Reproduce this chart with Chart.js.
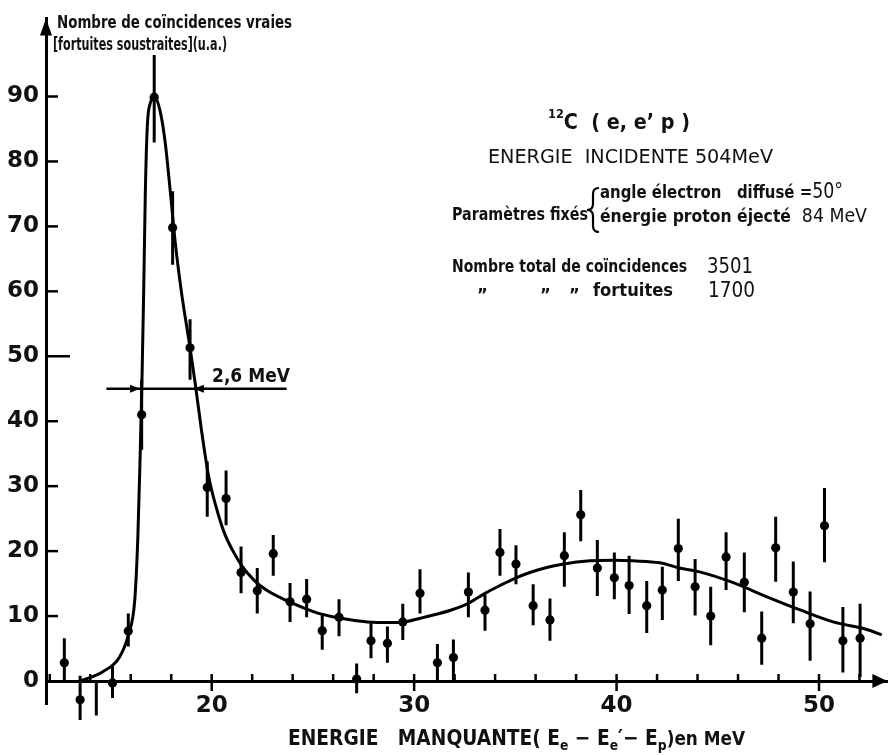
<!DOCTYPE html>
<html>
<head>
<meta charset="utf-8">
<script src="https://cdn.jsdelivr.net/npm/chart.js@4.4.0/dist/chart.umd.min.js"></script>
<style>
html,body{margin:0;padding:0;background:#fff;}
#wrap{width:892px;height:755px;position:relative;}
</style>
</head>
<body>
<div id="wrap"><canvas id="c" width="892" height="755"></canvas></div>
<script>
// ---- data ----
const energy = [12.72,13.5,14.3,15.1,15.88,16.54,17.16,18.07,18.93,19.78,20.71,21.45,22.25,23.04,23.87,24.69,25.46,26.29,27.16,27.87,28.68,29.44,30.29,31.15,31.94,32.68,33.5,34.24,35.03,35.88,36.71,37.42,38.23,39.05,39.89,40.62,41.49,42.26,43.05,43.88,44.65,45.41,46.31,47.17,47.86,48.73,49.56,50.27,51.18,52.03];
const counts = [2.8,-2.9,-5.3,-0.3,7.7,41.0,89.9,69.8,51.3,29.8,28.1,16.7,13.9,19.6,12.2,12.6,7.75,9.8,0.3,6.2,5.8,9.1,13.5,2.8,3.6,13.7,10.9,19.8,18.0,11.6,9.4,19.3,25.6,17.4,15.9,14.7,11.6,14.0,20.4,14.5,10.0,19.1,15.2,6.6,20.5,13.7,8.8,23.9,6.2,6.6];
const errLow = [-0.1,-6.0,-5.3,-2.6,5.3,35.6,82.9,64.1,46.4,25.3,24.0,13.5,10.4,16.2,9.1,9.8,4.8,6.9,-1.9,3.5,2.8,6.3,10.4,0.15,0.15,9.8,7.75,16.2,14.9,8.6,6.2,14.5,21.5,13.1,12.6,10.3,7.4,9.4,15.4,10.1,5.5,14.0,10.6,2.5,15.3,8.9,3.1,18.3,1.3,0.6];
const errHigh = [6.6,0.8,0.0,2.3,10.4,46.4,96.4,75.4,55.7,33.8,32.4,20.7,17.4,22.5,15.1,15.7,10.4,12.6,2.7,8.9,8.4,11.9,17.2,5.7,6.4,16.7,13.3,23.4,20.9,14.9,12.7,22.9,29.4,21.7,19.8,19.3,15.4,17.6,25.0,18.8,14.5,22.9,19.8,10.7,25.3,18.4,13.8,29.7,11.4,11.9];
const fitEnergy = [13.5,14.6,15.45,15.9,16.2,16.35,16.46,16.56,16.64,16.72,16.82,16.97,17.16,17.45,17.7,17.95,18.2,18.5,18.93,19.2,19.5,19.85,20.2,20.6,21.0,21.5,22.1,22.7,23.9,25.2,26.3,27.7,28.8,29.5,30.6,31.8,32.7,33.5,34.24,34.9,35.9,37.4,38.7,39.9,40.8,42.15,43.1,44.1,45.8,47.4,49.1,50.7,52.4,53.1];
const fitCounts = [0,1.4,3.7,7.3,12.5,22,34,47,60,75,85.5,89,90,87.8,83,75.5,67.5,60,51.3,45.5,38.5,31.5,27,23,20.3,17.7,15.5,14.0,12.1,10.5,9.7,9.1,9.0,9.1,9.9,10.9,12.0,13.5,14.7,15.7,16.9,18.0,18.5,18.6,18.5,18.2,17.4,16.8,15.1,13.0,10.9,9.1,7.9,7.1];
const xTickLabels = [20,30,40,50];
const yTickLabels = [0,10,20,30,40,50,60,70,80,90];
const fwhmLine = [14.8, 23.7];   // extent of the width marker (MeV)
const fwhmArrowTips = [16.46, 19.12];
const fwhmLevel = 45;
const fwhmLabel = '2,6 MeV';

// ---- build library datasets from the arrays ----
const points = energy.map((e,i)=>({x:e,y:counts[i]}));
const errorSegments = [];
energy.forEach((e,i)=>{ errorSegments.push({x:e,y:errLow[i]},{x:e,y:errHigh[i]},{x:e,y:null}); });
const fitCurve = fitEnergy.map((e,i)=>({x:e,y:fitCounts[i]}));
const fwhmSeg = [{x:fwhmLine[0],y:fwhmLevel},{x:fwhmLine[1],y:fwhmLevel}];

const ANN = "'DejaVu Sans Condensed','Liberation Sans Narrow','DejaVu Sans',sans-serif";
const TICKF = "'DejaVu Sans',sans-serif";

function drawRuns(ctx, runs, x, baseline, targetW, weight){
  let w = 0;
  runs.forEach(r=>{ ctx.font = (r.weight||weight)+' '+r.size+'px '+(r.family||ANN); r.w = ctx.measureText(r.t).width; w += r.w; });
  const sx = targetW ? targetW / w : 1;
  ctx.save();
  ctx.translate(x, baseline);
  ctx.scale(sx, 1);
  ctx.textAlign = 'left';
  ctx.textBaseline = 'alphabetic';
  let cx = 0;
  runs.forEach(r=>{ ctx.font = (r.weight||weight)+' '+r.size+'px '+(r.family||ANN); ctx.fillText(r.t, cx, r.dy||0); cx += r.w; });
  ctx.restore();
}

const decor = {
  id:'decor',
  afterDraw(chart){
    const ctx = chart.ctx, xs = chart.scales.x, ys = chart.scales.y, ca = chart.chartArea;
    const y0 = ys.getPixelForValue(0);
    ctx.save();
    ctx.fillStyle = '#000'; ctx.strokeStyle = '#000';
    // arrow heads of axes
    ctx.beginPath(); ctx.moveTo(ca.left, ca.top); ctx.lineTo(ca.left-6, ca.top+17); ctx.lineTo(ca.left+6, ca.top+17); ctx.closePath(); ctx.fill();
    ctx.beginPath(); ctx.moveTo(ca.right, y0); ctx.lineTo(ca.right-15, y0-7); ctx.lineTo(ca.right-15, y0+7); ctx.closePath(); ctx.fill();
    // tick marks (inside), from the library's tick list
    ctx.lineWidth = 2.5;
    xs.ticks.forEach(t=>{
      const px = xs.getPixelForValue(t.value);
      ctx.beginPath();
      if (xTickLabels.includes(t.value)) { ctx.moveTo(px, y0-7); ctx.lineTo(px, y0+10); }
      else { ctx.moveTo(px, y0-7); ctx.lineTo(px, y0); }
      ctx.stroke();
    });
    ys.ticks.forEach(t=>{
      if (t.value <= 0 || !yTickLabels.includes(t.value)) return;
      const py = ys.getPixelForValue(t.value);
      ctx.beginPath(); ctx.moveTo(ca.left, py); ctx.lineTo(ca.left + (t.value===50?24:12), py); ctx.stroke();
    });
    // FWHM arrow heads
    const fy = ys.getPixelForValue(fwhmLevel);
    const tl = xs.getPixelForValue(fwhmArrowTips[0]), tr = xs.getPixelForValue(fwhmArrowTips[1]);
    ctx.beginPath(); ctx.moveTo(tl, fy); ctx.lineTo(tl-10, fy-4); ctx.lineTo(tl-10, fy+4); ctx.closePath(); ctx.fill();
    ctx.beginPath(); ctx.moveTo(tr, fy); ctx.lineTo(tr+10, fy-4); ctx.lineTo(tr+10, fy+4); ctx.closePath(); ctx.fill();

    ctx.fillStyle = '#111';
    // FWHM label
    drawRuns(ctx, [{t:fwhmLabel, size:20}], 212, fy-7, 78, 'bold');
    // y axis title
    drawRuns(ctx, [{t:'Nombre de coïncidences vraies', size:18}], 57, 28, 235, 'bold');
    drawRuns(ctx, [{t:'[fortuites soustraites](u.a.)', size:18}], 53, 50, 174, 'bold');
    // reaction block
    drawRuns(ctx, [{t:'12', size:13, dy:-11},{t:'C', size:22},{t:'  ( e, e\u2019 p )', size:22}], 548, 129, 142, 'bold');
    drawRuns(ctx, [{t:'ENERGIE  INCIDENTE 504MeV', size:20, weight:'normal'}], 488, 163, 285, 'normal');
    drawRuns(ctx, [{t:'Paramètres fixés', size:18}], 452, 220, 136, 'bold');
    drawRuns(ctx, [{t:'angle électron   diffusé =', size:18},{t:'50°', size:21, weight:'normal'}], 600, 198, 243, 'bold');
    drawRuns(ctx, [{t:'énergie proton éjecté  ', size:18},{t:'84 MeV', size:20, weight:'normal'}], 600, 222, 267, 'bold');
    // brace
    ctx.lineWidth = 2.2;
    ctx.beginPath();
    ctx.moveTo(599,188); ctx.quadraticCurveTo(593,188,593,194); ctx.lineTo(593,204); ctx.quadraticCurveTo(593,210,587,210);
    ctx.quadraticCurveTo(593,210,593,216); ctx.lineTo(593,226); ctx.quadraticCurveTo(593,232,599,232);
    ctx.stroke();
    // totals
    drawRuns(ctx, [{t:'Nombre total de coïncidences', size:18}], 452, 272, 235, 'bold');
    drawRuns(ctx, [{t:'3501', size:21, weight:'normal'}], 707, 273, 46, 'normal');
    ['\u201D','\u201D','\u201D'].forEach((q,i)=>{ drawRuns(ctx, [{t:q, size:18}], [477,540,569][i], 301, 0, 'bold'); });
    drawRuns(ctx, [{t:'fortuites', size:18}], 593, 296, 80, 'bold');
    drawRuns(ctx, [{t:'1700', size:21, weight:'normal'}], 708, 297, 47, 'normal');
    // x axis title
    drawRuns(ctx, [
      {t:'ENERGIE   MANQUANTE( E', size:21},
      {t:'e', size:14, dy:5},
      {t:' \u2212 E', size:21},
      {t:'e', size:14, dy:5},
      {t:'\u2032\u2212 E', size:21},
      {t:'p', size:14, dy:5},
      {t:')en MeV', size:19}
    ], 288, 745, 457, 'bold');
    ctx.restore();
  }
};

const chart = new Chart(document.getElementById('c'), {
  type:'scatter',
  data:{ datasets:[
    {type:'line', data:errorSegments, showLine:true, spanGaps:false, borderColor:'#000', borderWidth:3, pointRadius:0, clip:false, order:3},
    {type:'line', data:fwhmSeg, showLine:true, borderColor:'#000', borderWidth:2.5, pointRadius:0, clip:false, order:4},
    {type:'line', data:fitCurve, showLine:true, cubicInterpolationMode:'monotone', borderColor:'#000', borderWidth:3, pointRadius:0, clip:false, order:2},
    {type:'scatter', data:points, pointRadius:4.6, pointHoverRadius:4.6, backgroundColor:'#000', borderColor:'#000', borderWidth:0, clip:false, order:1}
  ]},
  options:{
    responsive:false, animation:false, devicePixelRatio:1,
    layout:{padding:{top:13,left:0,right:0,bottom:51}},
    plugins:{legend:{display:false}, tooltip:{enabled:false}, title:{display:false}},
    events:[],
    scales:{
      x:{ type:'linear', min:11.813, max:53.61, position:{y:0},
          afterFit:(s)=>{ s.height = 50; },
          grid:{display:false, drawTicks:false},
          border:{display:true, color:'#000', width:3},
          ticks:{ stepSize:2, includeBounds:false, autoSkip:false, maxRotation:0, padding:14, color:'#111',
                  font:{family:TICKF, weight:'bold', size:23, lineHeight:1},
                  callback:(v)=> xTickLabels.includes(v) ? String(v) : '' } },
      y:{ type:'linear', min:-3.70, max:102.93, position:'left',
          afterFit:(s)=>{ s.width = 46; },
          grid:{display:false, drawTicks:false},
          border:{display:true, color:'#000', width:3},
          ticks:{ stepSize:10, includeBounds:false, padding:7, color:'#111',
                  font:{family:TICKF, weight:'bold', size:23, lineHeight:1},
                  callback:(v)=> yTickLabels.includes(v) ? String(v) : '' } }
    }
  },
  plugins:[decor]
});

// calibrate the axis ranges to the reference's drawing frame
function calibrate(){
  const ca = chart.chartArea;
  const pxPerMeV = (819 - 211.7) / 30;
  const pxPerUnit = (681 - 96.5) / 90;
  chart.options.scales.x.min = 20 - (211.7 - ca.left) / pxPerMeV;
  chart.options.scales.x.max = 50 + (ca.right - 819) / pxPerMeV;
  chart.options.scales.y.max = (681 - ca.top) / pxPerUnit;
  chart.options.scales.y.min = -(ca.bottom - 681) / pxPerUnit;
  chart.update();
}
calibrate(); calibrate();
</script>
</body>
</html>
